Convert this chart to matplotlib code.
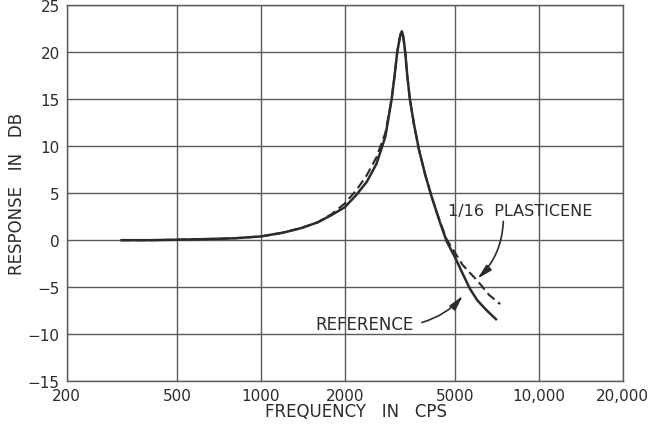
import matplotlib
matplotlib.use("Agg")
import matplotlib.pyplot as plt
import numpy as np

# curves (frequency in cps, response in db)
REF_FREQ = [315, 400, 500, 600, 700, 800, 1000, 1200, 1400, 1600, 1800, 2000,
            2200, 2400, 2600, 2800, 2870, 2950, 3020, 3090, 3150, 3185, 3210,
            3240, 3270, 3300, 3360, 3430, 3550, 3700, 3900, 4100, 4400, 4650,
            5000, 5300, 5650, 6000, 6500, 7000]
REF_DB = [0.0, 0.0, 0.05, 0.1, 0.15, 0.2, 0.4, 0.8, 1.3, 1.9, 2.7, 3.5,
          4.8, 6.2, 8.1, 11.0, 12.9, 15.0, 17.4, 20.0, 21.4, 22.0, 22.2,
          21.8, 21.0, 20.0, 17.4, 15.0, 12.3, 9.6, 6.9, 4.7, 1.9, -0.1,
          -1.9, -3.5, -5.2, -6.4, -7.5, -8.4]

PLAST_FREQ = [315, 400, 500, 600, 700, 800, 1000, 1200, 1400, 1600, 1800, 2000,
              2200, 2400, 2600, 2800, 2870, 2950, 3020, 3090, 3150, 3185, 3210,
              3240, 3270, 3300, 3360, 3430, 3550, 3700, 3900, 4100, 4400, 4650,
              5000, 5300, 5650, 6000, 6600, 7250]
PLAST_DB = [0.0, 0.0, 0.05, 0.1, 0.15, 0.2, 0.4, 0.8, 1.3, 1.9, 2.8, 3.9,
            5.3, 6.9, 8.8, 11.4, 13.1, 15.0, 17.4, 20.0, 21.4, 22.0, 22.2,
            21.8, 21.0, 20.0, 17.4, 15.0, 12.3, 9.6, 6.9, 4.7, 2.0, 0.1,
            -1.4, -2.6, -3.5, -4.3, -5.8, -6.8]

X_TICKS = [200, 500, 1000, 2000, 5000, 10000, 20000]
X_LABELS = ["200", "500", "1000", "2000", "5000", "10,000", "20,000"]
Y_TICKS = [25, 20, 15, 10, 5, 0, -5, -10, -15]
Y_LABELS = ["25", "20", "15", "10", "5", "0", "\u22125", "\u221210", "\u221215"]

INK = "#2b2b2b"
GRID = "#5a5a5a"

fig = plt.figure(figsize=(6.58, 4.39), dpi=100)
ax = fig.add_axes([0.1014, 0.1292, 0.845, 0.8571])

ax.plot(REF_FREQ, REF_DB, color=INK, linewidth=1.8, solid_joinstyle="round")
ax.plot(PLAST_FREQ, PLAST_DB, color=INK, linewidth=1.5, linestyle=(0, (4.5, 2.2)))

ax.set_xscale("log")
ax.set_xlim(200, 20000)
ax.set_ylim(-15, 25)
ax.set_xticks(X_TICKS)
ax.set_xticklabels(X_LABELS)
ax.xaxis.set_minor_locator(matplotlib.ticker.NullLocator())
ax.set_yticks(Y_TICKS)
ax.set_yticklabels(Y_LABELS)
ax.tick_params(length=0, labelsize=11, labelcolor=INK)
ax.tick_params(axis="x", pad=5)
ax.tick_params(axis="y", pad=5)
ax.grid(True, color=GRID, linewidth=1.0)
for s in ax.spines.values():
    s.set_color(GRID)
    s.set_linewidth(1.0)

ax.set_xlabel("FREQUENCY   IN   CPS", fontsize=12, color=INK)
ax.set_ylabel("RESPONSE   IN   DB", fontsize=12, color=INK)
ax.xaxis.set_label_coords(0.52, -0.055)
ax.yaxis.set_label_coords(-0.073, 0.5)

# labels and curved arrows
arrow = dict(arrowstyle="-|>,head_length=0.9,head_width=0.22", color=INK, lw=1.2,
             shrinkA=0, shrinkB=0)
ax.text(8570, 3.2, "1/16  PLASTICENE", fontsize=11.5, color=INK, ha="center", va="center")
ax.annotate("", xy=(6000, -4.1), xytext=(7440, 2.0),
            arrowprops=dict(arrow, connectionstyle="arc3,rad=-0.2"))
ax.text(2360, -8.9, "REFERENCE", fontsize=12, color=INK, ha="center", va="center")
ax.annotate("", xy=(5320, -5.9), xytext=(3790, -8.75),
            arrowprops=dict(arrow, connectionstyle="arc3,rad=0.15"))

fig.savefig("out.png", dpi=100)
